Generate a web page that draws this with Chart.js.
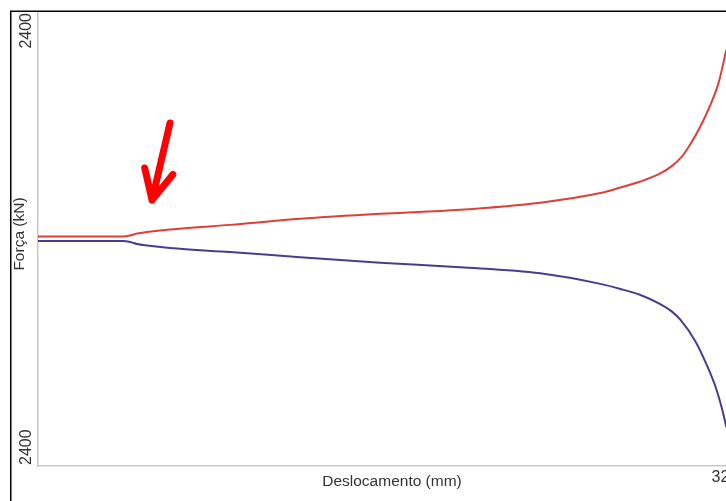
<!DOCTYPE html>
<html>
<head>
<meta charset="utf-8">
<script src="https://cdn.jsdelivr.net/npm/chart.js@4/dist/chart.umd.min.js"></script>
<style>
  html, body { margin: 0; padding: 0; background: #ffffff; overflow: hidden; width: 726px; height: 501px; }
  #wrap { position: absolute; left: 0; top: 0; width: 746px; height: 501px; }
</style>
</head>
<body>
<div id="wrap"><canvas id="c" width="746" height="501"></canvas></div>
<script>
// ---- data ----
const redX    = [0, 2, 3.99, 4.32, 4.65, 5.11, 6.19, 9.01, 12.29, 16.05, 19.8, 23.55, 26.37, 27.31, 28.25, 29.18, 29.7, 30.2, 30.59, 31.06, 31.53, 31.91, 32.28];
const redY    = [2400.005, 2400.005, 2400.005, 2400.007, 2400.011, 2400.014, 2400.019, 2400.028, 2400.040, 2400.050, 2400.058, 2400.072, 2400.091, 2400.102, 2400.114, 2400.130, 2400.144, 2400.164, 2400.188, 2400.223, 2400.266, 2400.309, 2400.375];
const purpleX = [0, 2, 3.99, 4.32, 4.65, 5.11, 6.19, 9.01, 12.29, 16.05, 19.8, 23.55, 26.37, 27.31, 28.25, 29.18, 29.7, 30.12, 30.83, 31.30, 31.77, 32.09, 32.28];
const purpleY = [2399.996, 2399.996, 2399.996, 2399.994, 2399.990, 2399.987, 2399.982, 2399.974, 2399.964, 2399.953, 2399.944, 2399.932, 2399.911, 2399.901, 2399.889, 2399.871, 2399.857, 2399.840, 2399.797, 2399.756, 2399.707, 2399.661, 2399.627];

const xTickValues = [32];
const xTickLabels = ['32'];
const yTickValues = [2400.45, 2399.55];
const yTickLabels = ['2400', '2400'];
const xTitle = 'Deslocamento (mm)';
const yTitle = 'Força (kN)';
// annotation arrow (data coordinates)
const arrowTip  = { x: 5.35, y: 2400.077 };
const arrowTail = { x: 6.19, y: 2400.230 };

const FONT = '"Liberation Sans", Arial, sans-serif';
const TEXT = '#333333';

const toPts = (xs, ys) => xs.map((x, i) => ({ x: x, y: ys[i] }));

const decor = {
  id: 'decor',
  beforeDraw(chart) {
    const ctx = chart.ctx;
    ctx.save();
    ctx.fillStyle = '#ffffff';
    ctx.fillRect(0, 0, chart.width, chart.height);
    ctx.restore();
  },
  afterDraw(chart) {
    const ctx = chart.ctx;
    const xs = chart.scales.x, ys = chart.scales.y;
    const ca = chart.chartArea;
    ctx.save();
    // outer frame (top + left)
    ctx.strokeStyle = '#000000';
    ctx.lineWidth = 1.5;
    ctx.beginPath();
    ctx.moveTo(10.75, chart.height + 2);
    ctx.lineTo(10.75, 11.25);
    ctx.lineTo(chart.width + 2, 11.25);
    ctx.stroke();

    // y tick labels (rotated)
    ctx.fillStyle = TEXT;
    ctx.font = '16px ' + FONT;
    ctx.textBaseline = 'middle';
    yTickValues.forEach((v, i) => {
      const py = ys.getPixelForValue(v);
      ctx.save();
      ctx.translate(27, py);
      ctx.rotate(-Math.PI / 2);
      ctx.textAlign = (v === ys.max) ? 'right' : 'left';
      ctx.fillText(yTickLabels[i], v === ys.max ? -1 : 1, 0);
      ctx.restore();
    });
    // y title
    ctx.save();
    ctx.font = '15.5px ' + FONT;
    ctx.translate(20, (ca.top + ca.bottom) / 2 - 5);
    ctx.rotate(-Math.PI / 2);
    ctx.textAlign = 'center';
    ctx.fillText(yTitle, 0, 0);
    ctx.restore();
    // x title
    ctx.font = '15.5px ' + FONT;
    ctx.textAlign = 'center';
    ctx.textBaseline = 'middle';
    ctx.fillText(xTitle, (ca.left + ca.right) / 2, ca.bottom + 16);

    // annotation arrow
    const tx = xs.getPixelForValue(arrowTip.x), ty = ys.getPixelForValue(arrowTip.y);
    const bx = xs.getPixelForValue(arrowTail.x), by = ys.getPixelForValue(arrowTail.y);
    const ang = Math.atan2(by - ty, bx - tx);
    const hl = 33, ha = 26 * Math.PI / 180;
    ctx.strokeStyle = '#ff0000';
    ctx.lineWidth = 7;
    ctx.lineCap = 'round';
    ctx.lineJoin = 'round';
    ctx.beginPath();
    ctx.moveTo(bx, by);
    ctx.lineTo(tx, ty);
    ctx.moveTo(tx + hl * Math.cos(ang - ha), ty + hl * Math.sin(ang - ha));
    ctx.lineTo(tx, ty);
    ctx.lineTo(tx + hl * Math.cos(ang + ha), ty + hl * Math.sin(ang + ha));
    ctx.stroke();
    ctx.restore();
  }
};

new Chart(document.getElementById('c'), {
  type: 'line',
  data: {
    datasets: [
      { data: toPts(redX, redY), borderColor: '#db4039', borderWidth: 2, pointRadius: 0, cubicInterpolationMode: 'monotone', fill: false },
      { data: toPts(purpleX, purpleY), borderColor: '#4b3b8e', borderWidth: 2, pointRadius: 0, cubicInterpolationMode: 'monotone', fill: false }
    ]
  },
  options: {
    responsive: false,
    animation: false,
    devicePixelRatio: 1,
    layout: { padding: { top: 12, left: 0, right: 0, bottom: 0 } },
    plugins: { legend: { display: false }, tooltip: { enabled: false } },
    scales: {
      x: {
        type: 'linear', min: 0, max: 33.2,
        grid: { display: false, drawTicks: false },
        border: { display: true, color: '#c8c8c8', width: 1.5 },
        afterBuildTicks: (s) => { s.ticks = xTickValues.map(v => ({ value: v })); },
        afterFit: (s) => { s.height = 35; },
        ticks: {
          color: TEXT, font: { size: 16, family: FONT }, padding: 2,
          maxRotation: 0, minRotation: 0, autoSkip: false,
          callback: (v) => { const i = xTickValues.indexOf(v); return i >= 0 ? xTickLabels[i] : ''; }
        }
      },
      y: {
        type: 'linear', min: 2399.55, max: 2400.45,
        grid: { display: false, drawTicks: false },
        border: { display: true, color: '#c8c8c8', width: 1.5 },
        afterFit: (s) => { s.width = 38; },
        ticks: { display: false }
      }
    }
  },
  plugins: [decor]
});
</script>
</body>
</html>
